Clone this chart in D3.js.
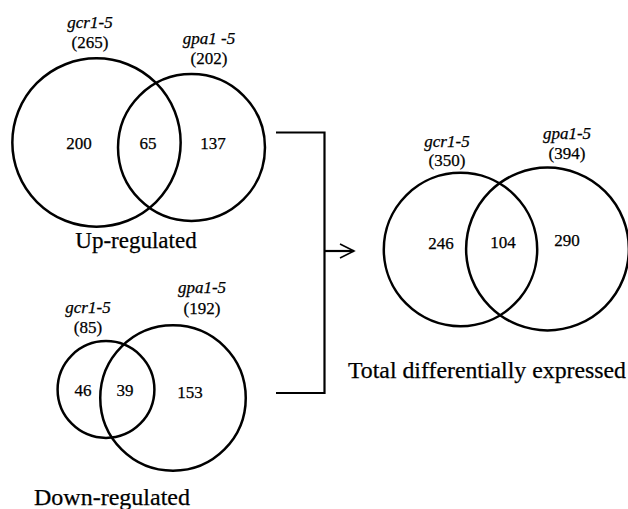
<!DOCTYPE html>
<html><head><meta charset="utf-8">
<script src="https://cdn.jsdelivr.net/npm/d3@7"></script>
<style>body{margin:0;background:#fff}svg{display:block}
svg text{font-family:"Liberation Serif","Times New Roman","DejaVu Serif",serif;fill:#000;stroke:#000;stroke-width:0.25px;}</style>
</head><body>
<script>
// ---- data ----
const panels = ["Up-regulated", "Down-regulated", "Total differentially expressed"];
const setA = ["gcr1-5", "gcr1-5", "gcr1-5"];
const setB = ["gpa1 -5", "gpa1-5", "gpa1-5"];
const totalA = [265, 85, 350];
const totalB = [202, 192, 394];
const onlyA = [200, 46, 246];
const both = [65, 39, 104];
const onlyB = [137, 153, 290];

// ---- layout ----
const W = 628, H = 509;
const svg = d3.select("body").append("svg").attr("width", W).attr("height", H);

const layout = [
  {k: 5.17, ca: [96.5, 142.5], cb: [191.5, 147.5],
   la: [90, 28, 48], lb: [209, 44, 64],
   nums: [[79, 149], [148, 149], [213, 149]], title: [136, 248, 23]},
  {k: 5.25, ca: [106, 389.5], cb: [173, 398],
   la: [88, 313, 333], lb: [202, 293, 314],
   nums: [[83, 396], [125, 396], [190, 398]], title: [112, 505, 24]},
  {k: 4.1, ca: [460.5, 249.5], cb: [547.5, 249],
   la: [447, 147, 166], lb: [567, 139, 159],
   nums: [[441, 249], [503, 248], [567, 246]], title: [487, 378, 23.8]}
];

panels.forEach((p, i) => {
  const L = layout[i];
  const r = d3.scaleSqrt().domain([0, 1]).range([0, L.k]);
  const g = svg.append("g");
  [[L.ca, totalA[i]], [L.cb, totalB[i]]].forEach(([c, v]) => {
    g.append("circle").attr("cx", c[0]).attr("cy", c[1]).attr("r", r(v))
      .attr("fill", "none").attr("stroke", "#000").attr("stroke-width", 2.5);
  });
  [[L.la, setA[i], totalA[i]], [L.lb, setB[i], totalB[i]]].forEach(([l, name, v]) => {
    g.append("text").attr("x", l[0]).attr("y", l[1]).attr("text-anchor", "middle")
      .style("font-style", "italic").style("font-size", "17px").text(name);
    g.append("text").attr("x", l[0]).attr("y", l[2]).attr("text-anchor", "middle")
      .style("font-size", "17px").text("(" + v + ")");
  });
  [onlyA[i], both[i], onlyB[i]].forEach((v, j) => {
    g.append("text").attr("x", L.nums[j][0]).attr("y", L.nums[j][1]).attr("text-anchor", "middle")
      .style("font-size", "17px").text(v);
  });
  g.append("text").attr("x", L.title[0]).attr("y", L.title[1]).attr("text-anchor", "middle")
    .style("font-size", L.title[2] + "px").text(p);
});

// bracket and arrow
const br = svg.append("g").attr("fill", "none").attr("stroke", "#000").attr("stroke-width", 2.2);
br.append("path").attr("d", "M276,132.5H324.5V393H276");
br.append("path").attr("d", "M324.5,251H354");
br.append("path").attr("d", "M340,244L354,251L340,258").attr("stroke-width", 1.6);
</script>
</body></html>
